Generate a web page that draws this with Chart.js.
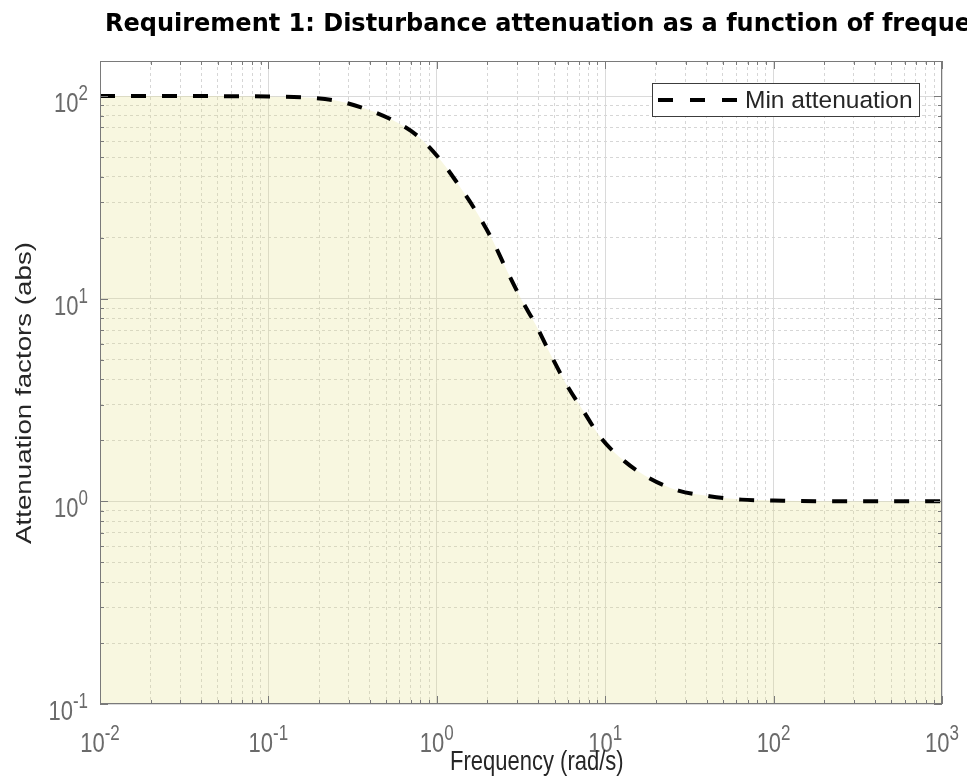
<!DOCTYPE html>
<html>
<head>
<meta charset="utf-8">
<script src="https://cdn.jsdelivr.net/npm/chart.js@4.4.0/dist/chart.umd.min.js"></script>
<style>
  html, body { margin: 0; padding: 0; background: #fff; }
</style>
</head>
<body>
<canvas id="chart" width="967" height="778"></canvas>
<script>
// data (log-log plot)
const freq = [0.01, 0.03, 0.1, 0.18, 0.26, 0.37, 0.53, 0.77, 1.06, 1.33, 1.71, 2.15, 2.58, 3.16, 3.88, 4.77, 5.86, 7.4, 9.46, 13, 18.3, 27.2, 41.6, 64.5, 100, 200, 1000];
const minAtten = [100, 100, 99.6, 98, 94.5, 87, 77, 63.5, 48, 37, 27, 19.3, 14.0, 10, 7.4, 5.25, 3.8, 2.8, 2.05, 1.58, 1.3, 1.13, 1.06, 1.02, 1.01, 1.0, 1.0];
const xRange = [0.01, 1000];
const yRange = [0.1, 149];
const xExponents = [-2, -1, 0, 1, 2, 3];
const yExponents = [-1, 0, 1, 2];
const titleText = 'Requirement 1: Disturbance attenuation as a function of frequency';
const xLabel = 'Frequency (rad/s)';
const yLabel = 'Attenuation factors (abs)';
const seriesName = 'Min attenuation';

const SY = 1.26;   // reference text looks stretched vertically
const TICK_FONT = '22px "Liberation Sans", Arial, sans-serif';
const EXP_FONT = '17px "Liberation Sans", Arial, sans-serif';
const LABEL_FONT = '22px "Liberation Sans", Arial, sans-serif';
const LEGEND_FONT = '24.5px "Liberation Sans", Arial, sans-serif';
const TICK_COLOR = '#6a6a6a';
const LABEL_COLOR = '#262626';
const DASH = [15, 16];

function isMajor(v) {
  const l = Math.log10(v);
  return Math.abs(l - Math.round(l)) < 1e-6;
}

// 1..9 x 10^n inside the range
function logTicks(min, max) {
  const out = [];
  for (let e = Math.floor(Math.log10(min)); e <= Math.ceil(Math.log10(max)); e++) {
    for (let k = 1; k < 10; k++) {
      const v = k * Math.pow(10, e);
      if (v >= min * 0.9999 && v <= max * 1.0001) out.push({ value: v, major: k === 1 });
    }
  }
  return out;
}

function drawText(ctx, str, x, y, font, color, align, sy, rot) {
  ctx.save();
  ctx.translate(x, y);
  ctx.scale(1, sy || 1);
  if (rot) ctx.rotate(rot);
  ctx.font = font;
  ctx.fillStyle = color;
  ctx.textAlign = align || 'left';
  ctx.textBaseline = 'alphabetic';
  ctx.fillText(str, 0, 0);
  ctx.restore();
}

function powerLabel(ctx, exp, x, baseY, align) {
  ctx.font = TICK_FONT;
  const wb = ctx.measureText('10').width;
  ctx.font = EXP_FONT;
  const we = ctx.measureText(String(exp)).width;
  const left = align === 'center' ? x - (wb + we) / 2 : x - (wb + we);
  drawText(ctx, '10', left, baseY, TICK_FONT, TICK_COLOR, 'left', SY);
  drawText(ctx, String(exp), left + wb, baseY - 12, EXP_FONT, TICK_COLOR, 'left', SY);
}

// box + inward tick marks on all four sides
const axesBox = {
  id: 'axesBox',
  afterDatasetsDraw(chart) {
    const { ctx, chartArea: a, scales: { x, y } } = chart;
    ctx.save();
    ctx.strokeStyle = '#7a7a7a';
    ctx.lineWidth = 1;
    ctx.strokeRect(a.left + 0.5, a.top + 0.5, a.right - a.left - 1, a.bottom - a.top - 1);
    ctx.beginPath();
    x.ticks.forEach(t => {
      const px = Math.round(x.getPixelForValue(t.value)) + 0.5;
      const L = isMajor(t.value) ? 8 : 4;
      ctx.moveTo(px, a.bottom); ctx.lineTo(px, a.bottom - L);
      ctx.moveTo(px, a.top); ctx.lineTo(px, a.top + L);
    });
    y.ticks.forEach(t => {
      const py = Math.round(y.getPixelForValue(t.value)) + 0.5;
      const L = isMajor(t.value) ? 8 : 4;
      ctx.moveTo(a.left, py); ctx.lineTo(a.left + L, py);
      ctx.moveTo(a.right, py); ctx.lineTo(a.right - L, py);
    });
    ctx.stroke();
    ctx.restore();
  }
};

// tick labels, titles and legend (drawn the MATLAB way)
const texts = {
  id: 'texts',
  afterDraw(chart) {
    const { ctx, chartArea: a, scales: { x, y } } = chart;
    xExponents.forEach(e => powerLabel(ctx, e, x.getPixelForValue(Math.pow(10, e)), a.bottom + 48, 'center'));
    yExponents.forEach(e => powerLabel(ctx, e, a.left - 12, y.getPixelForValue(Math.pow(10, e)) + 16, 'right'));

    drawText(ctx, titleText, 105, 31, 'bold 24px "DejaVu Sans", sans-serif', '#000', 'left');
    drawText(ctx, xLabel, 450, 770, LABEL_FONT, LABEL_COLOR, 'left', SY);
    drawText(ctx, yLabel, 31, 393, LABEL_FONT, LABEL_COLOR, 'center', SY, -Math.PI / 2);

    // legend
    ctx.save();
    ctx.fillStyle = '#fff';
    ctx.fillRect(652, 83, 268, 34);
    ctx.strokeStyle = '#3c3c3c';
    ctx.lineWidth = 1;
    ctx.strokeRect(652.5, 83.5, 267, 33);
    ctx.strokeStyle = '#000';
    ctx.lineWidth = 4;
    ctx.setLineDash([15, 17]);
    ctx.beginPath();
    ctx.moveTo(658, 100);
    ctx.lineTo(738, 100);
    ctx.stroke();
    ctx.restore();
    drawText(ctx, seriesName, 745, 108, LEGEND_FONT, LABEL_COLOR, 'left');
  }
};

const scaleCommon = {
  type: 'logarithmic',
  ticks: { display: false },
  border: {
    display: false,
    dash: c => (c.tick && !isMajor(c.tick.value)) ? [3, 3] : []
  },
  grid: {
    drawTicks: false,
    lineWidth: 1,
    color: c => (c.tick && isMajor(c.tick.value)) ? '#dadada' : '#d6d6d6'
  },
  title: { display: false }
};

new Chart(document.getElementById('chart'), {
  type: 'line',
  data: {
    datasets: [{
      label: seriesName,
      data: freq.map((f, i) => ({ x: f, y: minAtten[i] })),
      borderColor: '#000',
      borderWidth: 4,
      borderDash: DASH,
      borderCapStyle: 'butt',
      backgroundColor: 'rgba(226,222,130,0.25)',
      fill: 'start',
      pointRadius: 0,
      cubicInterpolationMode: 'monotone'
    }]
  },
  options: {
    responsive: false,
    animation: false,
    layout: { padding: { left: 100, top: 61, right: 25, bottom: 74 } },
    plugins: { legend: { display: false }, tooltip: { enabled: false }, title: { display: false } },
    scales: {
      x: Object.assign({}, scaleCommon, {
        min: xRange[0], max: xRange[1],
        afterBuildTicks: s => { s.ticks = logTicks(xRange[0], xRange[1]); }
      }),
      y: Object.assign({}, scaleCommon, {
        min: yRange[0], max: yRange[1],
        afterBuildTicks: s => { s.ticks = logTicks(yRange[0], yRange[1]); }
      })
    }
  },
  plugins: [axesBox, texts]
});
</script>
</body>
</html>
